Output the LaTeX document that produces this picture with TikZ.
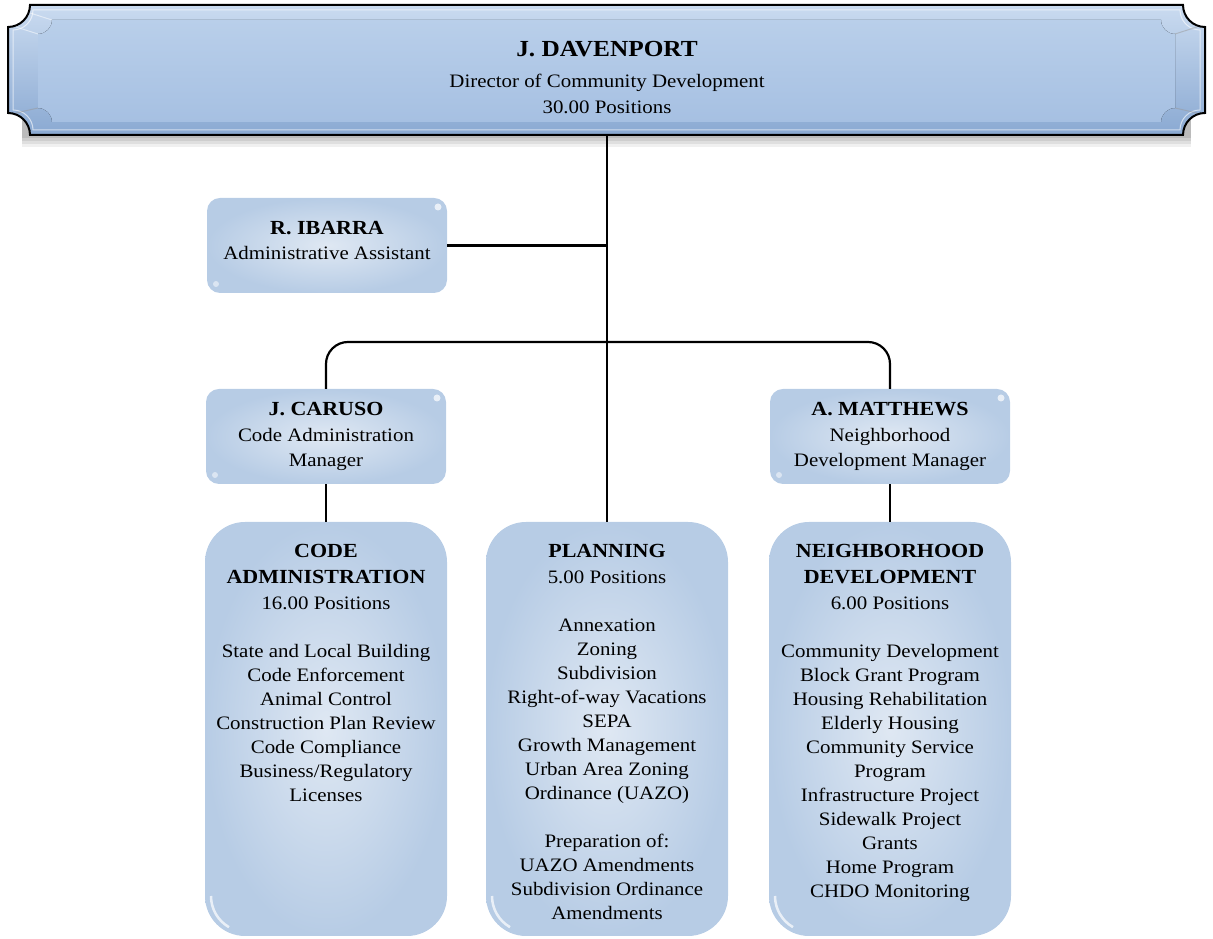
\documentclass[tikz,border=0pt]{standalone}
\usepackage{fontspec}
\setmainfont[FakeStretch=1.1]{Liberation Serif}
\usetikzlibrary{calc}
\definecolor{boxout}{HTML}{B7CCE5}
\definecolor{boxin}{HTML}{DFE8F3}
\definecolor{banTop}{HTML}{CADBF0}
\definecolor{banBot}{HTML}{8AA9D2}
\definecolor{faceTop}{HTML}{B9CFEA}
\definecolor{faceBot}{HTML}{A6C0E2}
\tikzset{
  body/.style={font=\fontsize{19}{24}\selectfont, align=center, inner sep=0pt},
  smallbox/.style={rounded corners=13pt, inner color=boxin, outer color=boxout,
    minimum width=240pt, minimum height=95pt, align=center, inner sep=0pt,
    font=\fontsize{19}{25.5}\selectfont,
    path picture={\fill[white,opacity=0.7] ([xshift=-9pt,yshift=-9pt]path picture bounding box.north east) circle (3.5pt);
                  \fill[white,opacity=0.5] ([xshift=9pt,yshift=9pt]path picture bounding box.south west) circle (3pt);}},
  bigbox/.style={rounded corners=40pt, inner color=boxin, outer color=boxout,
    minimum width=242pt, minimum height=414pt, inner sep=0pt,
    path picture={\draw[white,opacity=0.7,line width=2.5pt] ([xshift=6pt,yshift=40pt]path picture bounding box.south west) arc[start angle=180,end angle=240,radius=36pt];}},
  conn/.style={line width=2.2pt, black},
}
\newcommand{\hd}[1]{{\bfseries\fontsize{20}{25}\selectfont #1}}
\begin{document}
\begin{tikzpicture}[x=1pt,y=1pt]
\useasboundingbox (0,0) rectangle (1213,939);
% ---- banner ----
\node[minimum width=1197pt, minimum height=130pt, inner sep=0pt] (dav) at (607,869) {};
% soft shadow
\foreach \o/\d in {0.06/12,0.07/9,0.08/6,0.09/3}{
\fill[black,opacity=\o] (22,{804-\d}) -- (1191,{804-\d}) -- (1191,820) -- (22,820) -- cycle;}
% outer
\draw[line width=2pt, top color=banTop, bottom color=banBot]
  (30,934) -- (1183,934) arc[start angle=180,end angle=270,radius=22]
  -- (1205,826) arc[start angle=90,end angle=180,radius=22]
  -- (30,804) arc[start angle=0,end angle=90,radius=22]
  -- (8,912) arc[start angle=270,end angle=360,radius=22] -- cycle;
% rim
\draw[white,opacity=0.6,line width=1pt]
  (33,929) -- (1180,929) arc[start angle=180,end angle=270,radius=20]
  -- (1200,829) arc[start angle=90,end angle=180,radius=20]
  -- (33,809) arc[start angle=0,end angle=90,radius=20]
  -- (13,909) arc[start angle=270,end angle=360,radius=20] -- cycle;
% bevel corner lines
\draw[white,opacity=0.5,line width=1pt] (16,912) -- (38,905) (30,926) -- (52,919);
\draw[black!40,opacity=0.5,line width=1pt] (1197,912) -- (1175,905) (1197,826) -- (1175,831) (16,826) -- (38,831);
% face
\fill[top color=faceTop, bottom color=faceBot]
  (52,919) -- (1161,919) arc[start angle=180,end angle=270,radius=14]
  -- (1175,831) arc[start angle=90,end angle=180,radius=14]
  -- (52,817) arc[start angle=0,end angle=90,radius=14]
  -- (38,905) arc[start angle=270,end angle=360,radius=14] -- cycle;
\node[anchor=north, align=center, inner sep=0pt, font=\fontsize{19}{25.5}\selectfont] (davtext) at ([yshift=-36pt]dav.north)
  {{\bfseries\fontsize{23}{28}\selectfont J. DAVENPORT}\\[6pt] Director of Community Development\\ 30.00 Positions};
% ---- small boxes ----
\node[smallbox] (ibarra) at (327,693.5) {\hd{R. IBARRA}\\ Administrative Assistant\\[-15pt]};
\node[smallbox] (caruso) at (326,502.5) {\hd{J. CARUSO}\\ Code Administration\\ Manager};
\node[smallbox] (matthews) at (890,502.5) {\hd{A. MATTHEWS}\\ Neighborhood\\ Development Manager};
% ---- big boxes ----
\node[bigbox] (codeadm) at (326,210) {};
\node[bigbox] (planning) at (607,210) {};
\node[bigbox] (neigh) at (890,210) {};
\node[body, anchor=north] (codetext) at ([yshift=-22pt]codeadm.north)
  {\hd{CODE}\\[2pt] \hd{ADMINISTRATION}\\[2pt] 16.00 Positions\\[24pt]
   State and Local Building\\ Code Enforcement\\ Animal Control\\ Construction Plan Review\\
   Code Compliance\\ Business/Regulatory\\ Licenses};
\node[body, anchor=north] (plantext) at ([yshift=-22pt]planning.north)
  {\hd{PLANNING}\\[2pt] 5.00 Positions\\[24pt]
   Annexation\\ Zoning\\ Subdivision\\ Right-of-way Vacations\\ SEPA\\ Growth Management\\
   Urban Area Zoning\\ Ordinance (UAZO)\\[24pt]
   Preparation of:\\ UAZO Amendments\\ Subdivision Ordinance\\ Amendments};
\node[body, anchor=north] (neightext) at ([yshift=-22pt]neigh.north)
  {\hd{NEIGHBORHOOD}\\[2pt] \hd{DEVELOPMENT}\\[2pt] 6.00 Positions\\[24pt]
   Community Development\\ Block Grant Program\\ Housing Rehabilitation\\ Elderly Housing\\
   Community Service\\ Program\\ Infrastructure Project\\ Sidewalk Project\\ Grants\\
   Home Program\\ CHDO Monitoring};
% ---- connectors ----
\coordinate (bar) at (607,597);
\draw[conn] (dav.south) -- (planning.north);
\draw[conn] (ibarra.east) -- (ibarra.east -| dav.south);
\draw[conn, rounded corners=22pt] (caruso.north) |- (bar) -| (matthews.north);
\draw[conn] (caruso.south) -- (codeadm.north);
\draw[conn] (matthews.south) -- (neigh.north);
\end{tikzpicture}
\end{document}
